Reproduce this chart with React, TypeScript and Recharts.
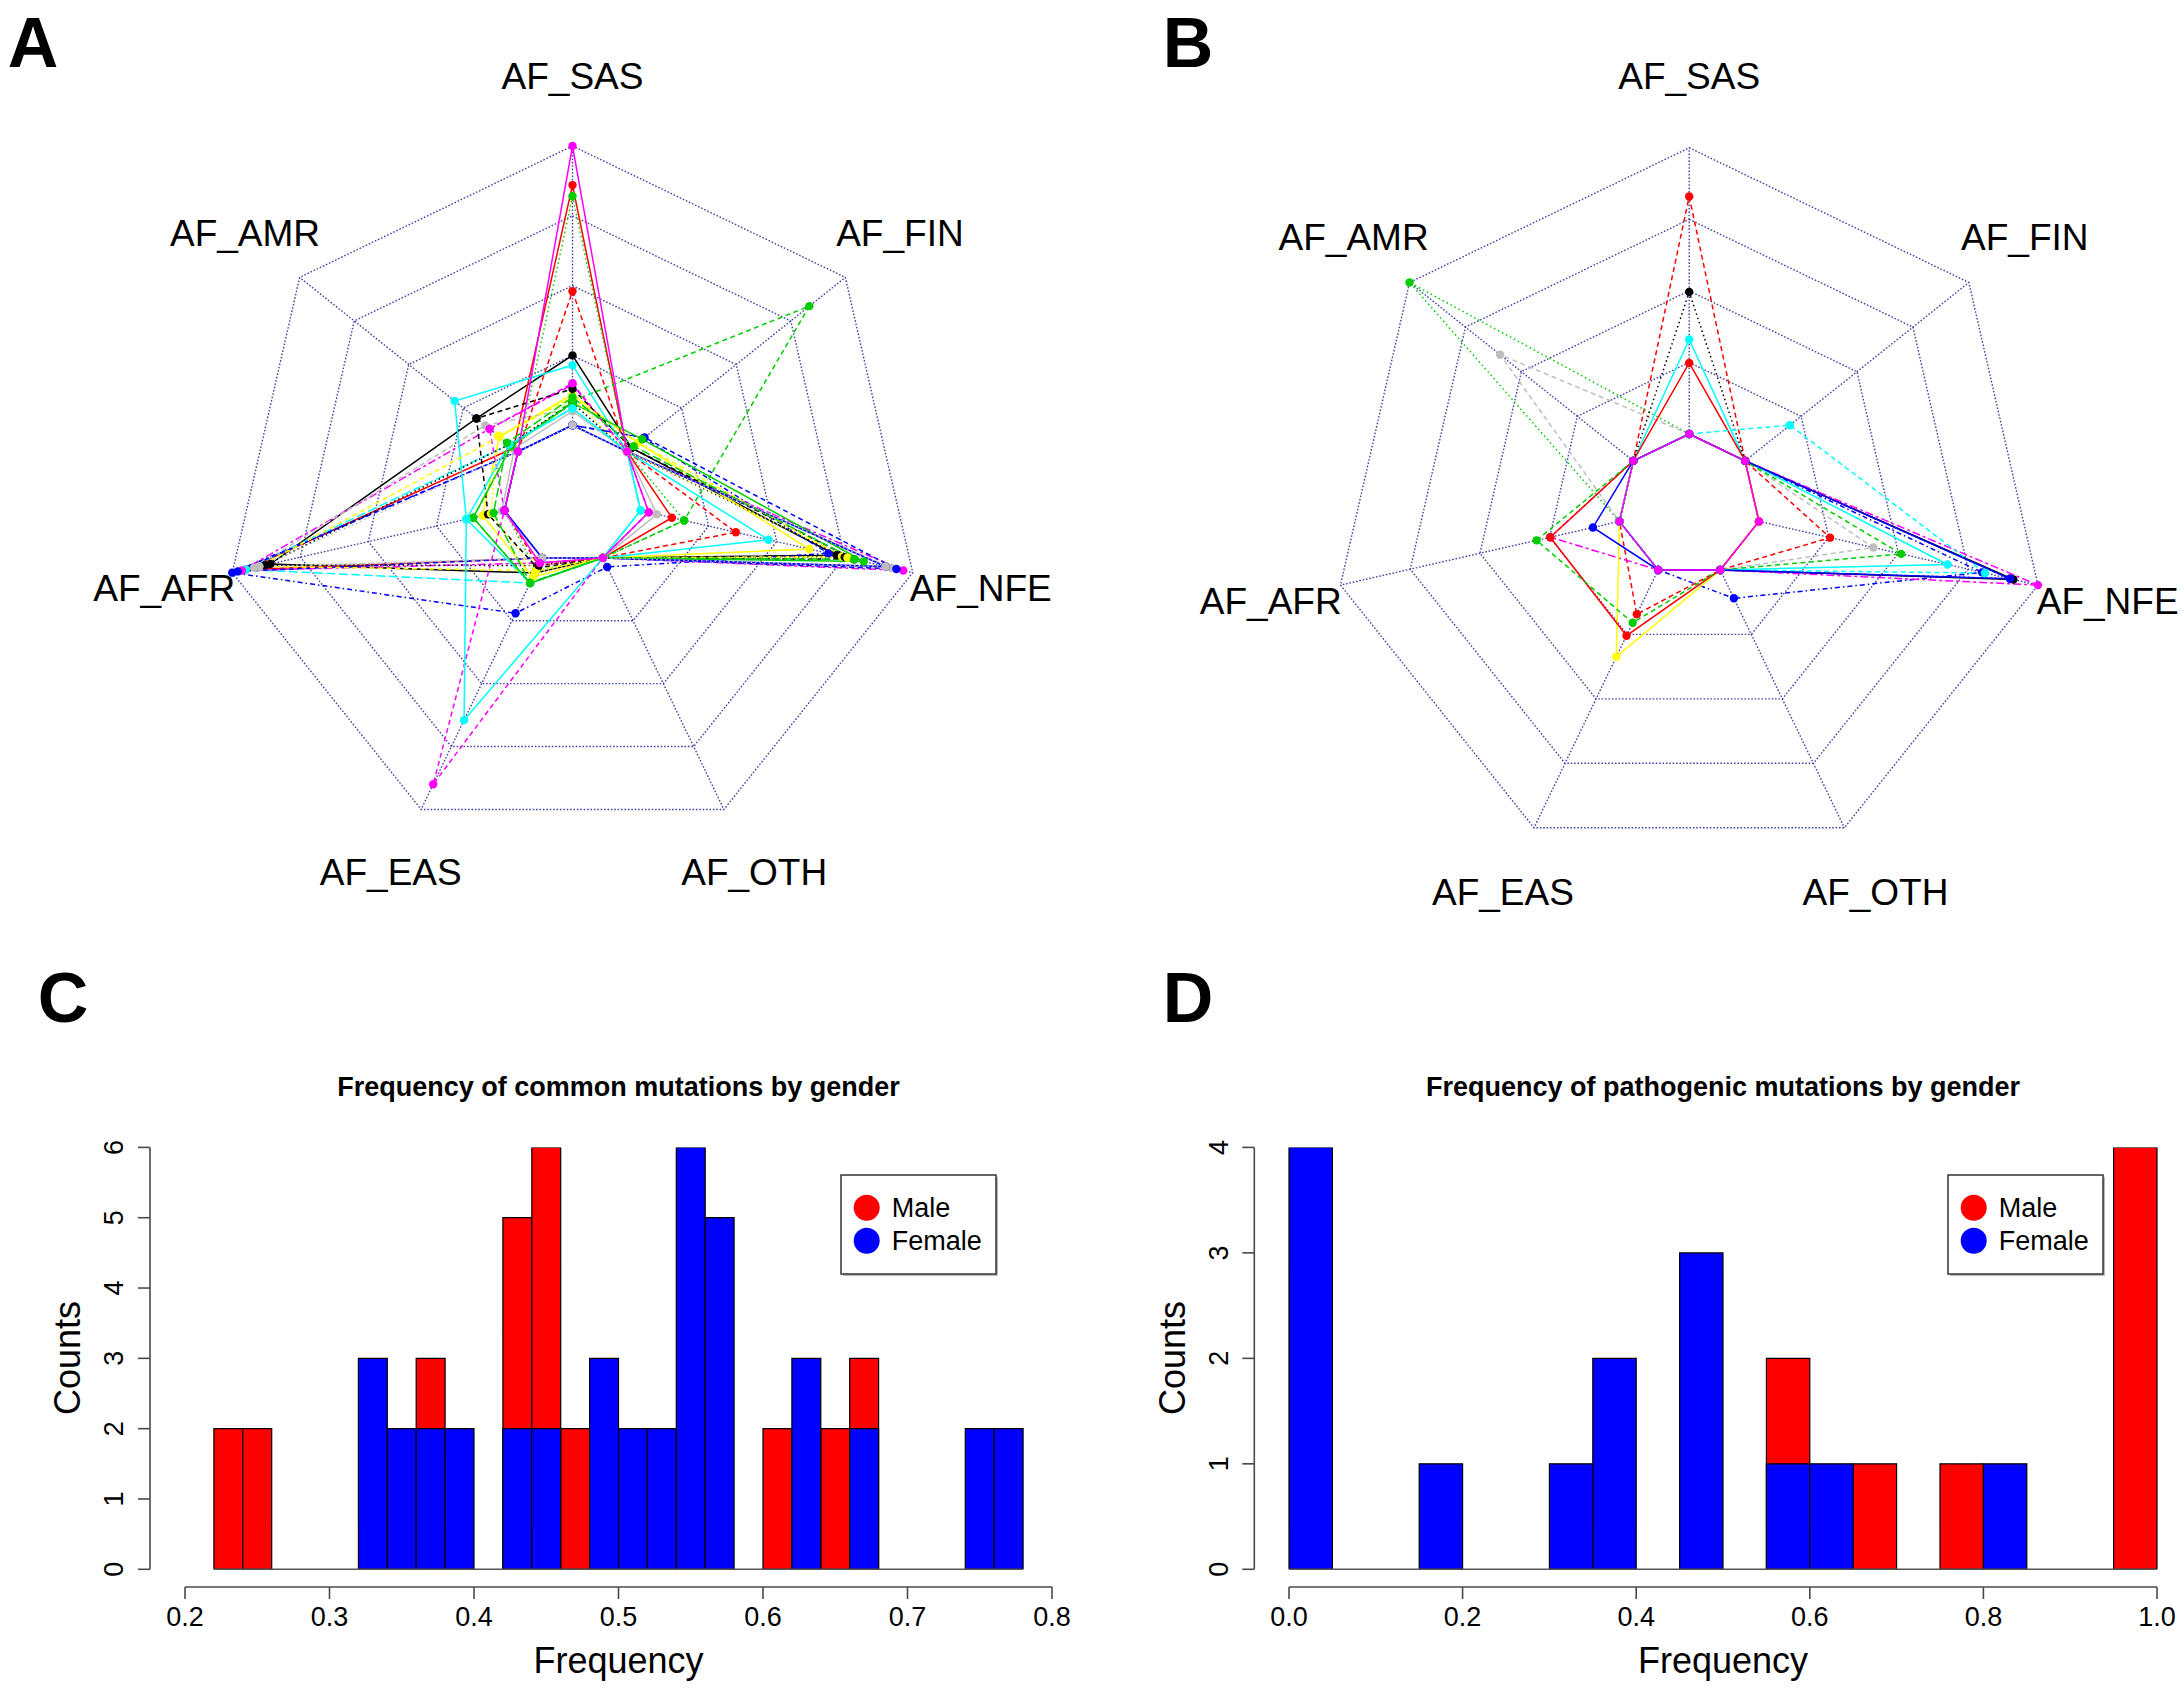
import React from 'react';
import {
  RadarChart, Radar, PolarGrid, PolarAngleAxis, PolarRadiusAxis,
  ComposedChart, Bar, XAxis, YAxis, ReferenceLine,
} from 'recharts';

const FONT = '"Liberation Sans", Arial, Helvetica, sans-serif';

// ---------------- Radar data ----------------
const radarAxes = ['AF_SAS', 'AF_FIN', 'AF_NFE', 'AF_OTH', 'AF_EAS', 'AF_AFR', 'AF_AMR'];

// Panel A series (order of radarAxes)
const a01 = [0.25, 0.02, 0.72, 0, 0.06, 0.86, 0.19];
const a02 = [0.86, 0, 0.115, 0, 0, 0.95, 0.02];
const a03 = [0.82, 0, 0.16, 0, 0.05, 0, 0];
const a04 = [0, 0.077, 0.69, 0.036, 0.22, 1.0, 0];
const a05 = [0.06, 0, 0, 0, 0.1, 0.95, 0.04];
const a06 = [0.145, 0, 0.965, 0, 0.02, 0.965, 0.13];
const a07 = [0.11, 0.05, 0.62, 0, 0.077, 0.08, 0.085];
const a08 = [0.06, 0, 0.92, 0, 0, 0.92, 0.15];
const a09 = [0.13, 0.02, 0.785, 0, 0.04, 0.06, 0.19];
const a10 = [0.48, 0, 0.35, 0, 0.03, 0, 0];
const a11 = [0.087, 0.835, 0.16, 0, 0.1, 0.115, 0.03];
const a12 = [0, 0.08, 0.94, 0, 0, 0.98, 0];
const a13 = [0.215, 0, 0.47, 0, 0.1, 0.14, 0.29];
const a14 = [0.15, 0, 0.03, 0, 0.9, 0, 0.13];
const a15 = [0.1, 0.05, 0.74, 0, 0.05, 0.9, 0.085];
const a16 = [0.05, 0, 0.06, 0, 0, 0.01, 0.016];
const a17 = [0.08, 0, 0.75, 0, 0.03, 0.88, 0.04];
const a18 = [0.08, 0.07, 0.82, 0, 0.1, 0.115, 0.03];
const a19 = [0, 0, 0.9, 0, 0, 0, 0];
const a20 = [0.06, 0, 0, 0, 0.645, 0.14, 0.04];
const a21 = [0.1, 0, 0.76, 0, 0.06, 0.05, 0.09];
const a22 = [0.1, 0.03, 0.785, 0, 0.1, 0.04, 0.05];
const a23 = [0, 0, 0.9, 0, 0, 0.9, 0];
const a24 = [1.0, 0, 0.03, 0, 0.02, 0, 0];
const radarASeries = [a01, a02, a03, a04, a05, a06, a07, a08, a09, a10, a11, a12, a13, a14, a15, a16, a17, a18, a19, a20, a21, a22, a23, a24];
const radarAColors = ['#000000', '#FF0000', '#00CD00', '#0000FF', '#00FFFF', '#FF00FF', '#FFFF00', '#BEBEBE',
  '#000000', '#FF0000', '#00CD00', '#0000FF', '#00FFFF', '#FF00FF', '#FFFF00', '#BEBEBE',
  '#000000', '#00CD00', '#0000FF', '#00FFFF', '#FFFF00', '#00CD00', '#BEBEBE', '#FF00FF'];
const radarALty = ['solid', 'solid', 'dotted', 'dotdash', 'longdash', 'twodash', 'solid', 'dashed',
  'dashed', 'dashed', 'dashed', 'dashed', 'solid', 'dashed', 'dashed', 'solid',
  'dotted', 'solid', 'solid', 'solid', 'dotted', 'longdash', 'dotted', 'solid'];

// Panel B series
const b01 = [0, 0, 0.912, 0, 0, 0, 0];
const b02 = [0.83, 0, 0.255, 0, 0.172, 0, 0];
const b03 = [0, 0, 0, 0, 0, 0, 1.0];
const b04 = [0, 0, 0.8, 0.11, 0, 0, 0];
const b05 = [0.33, 0, 0.676, 0, 0, 0, 0];
const b06 = [0, 0, 1.0, 0, 0, 0.248, 0];
const b07 = [0, 0, 0, 0, 0.337, 0, 0];
const b08 = [0, 0, 0.41, 0, 0, 0, 0.595];
const b09 = [0.496, 0, 0.9, 0, 0, 0, 0];
const b10 = [0.248, 0, 0, 0, 0.255, 0.248, 0];
const b11 = [0, 0, 0.51, 0, 0.205, 0.297, 0];
const b12 = [0, 0.2, 0.81, 0, 0, 0, 0];
const b13 = [0, 0, 0.9, 0, 0, 0.095, 0];
const b14 = [0, 0, 0, 0, 0, 0, 0];
const radarBSeries = [b01, b02, b03, b04, b05, b06, b07, b08, b09, b10, b11, b12, b13, b14];
const radarBColors = ['#000000', '#FF0000', '#00CD00', '#0000FF', '#00FFFF', '#FF00FF', '#FFFF00', '#BEBEBE',
  '#000000', '#FF0000', '#00CD00', '#00FFFF', '#0000FF', '#FF00FF'];
const radarBLty = ['solid', 'dashed', 'dotted', 'dotdash', 'solid', 'twodash', 'solid', 'dashed',
  'dotted', 'solid', 'dashed', 'dashed', 'solid', 'solid'];

// ---------------- Histogram data ----------------
const cBins = ['0.20', '0.22', '0.24', '0.26', '0.28', '0.30', '0.32', '0.34', '0.36', '0.38',
  '0.40', '0.42', '0.44', '0.46', '0.48', '0.50', '0.52', '0.54', '0.56', '0.58',
  '0.60', '0.62', '0.64', '0.66', '0.68', '0.70', '0.72', '0.74', '0.76', '0.78'];
const cMale = [0, 2, 2, 0, 0, 0, 0, 0, 3, 0, 0, 5, 6, 2, 0, 0, 0, 0, 0, 0, 2, 0, 2, 3, 0, 0, 0, 0, 0, 0];
const cFemale = [0, 0, 0, 0, 0, 0, 3, 2, 2, 2, 0, 2, 2, 0, 3, 2, 2, 6, 5, 0, 0, 3, 0, 2, 0, 0, 0, 2, 2, 0];
const cXTicks = [0.2, 0.3, 0.4, 0.5, 0.6, 0.7, 0.8];
const cYTicks = [0, 1, 2, 3, 4, 5, 6];
const cRange = [0.22, 0.78];

const dBins = ['0.00', '0.05', '0.10', '0.15', '0.20', '0.25', '0.30', '0.35', '0.40', '0.45',
  '0.50', '0.55', '0.60', '0.65', '0.70', '0.75', '0.80', '0.85', '0.90', '0.95'];
const dMale = [0, 0, 0, 0, 0, 0, 0, 0, 0, 0, 0, 2, 0, 1, 0, 1, 0, 0, 0, 4];
const dFemale = [4, 0, 0, 1, 0, 0, 1, 2, 0, 3, 0, 1, 1, 0, 0, 0, 1, 0, 0, 0];
const dXTicks = [0.0, 0.2, 0.4, 0.6, 0.8, 1.0];
const dYTicks = [0, 1, 2, 3, 4];
const dRange = [0.0, 1.0];

const DASH: Record<string, string | undefined> = {
  solid: undefined,
  dashed: '5 3.5',
  dotted: '1.5 3',
  dotdash: '1.5 3 5 3',
  longdash: '9 3.5',
  twodash: '3 3 8 3',
};

// ---------------- Radar panel ----------------
function RadarPanel(props: any) {
  const { left, top, width, height, cx, cy, R, series, colors, lty } = props;
  const rows = radarAxes.map((axis, i) => {
    const row: any = { axis };
    series.forEach((s: number[], k: number) => { row['s' + k] = s[i]; });
    return row;
  });
  const rings = [1, 2, 3, 4, 5].map((k) => (k * R) / 5);
  const tick = (p: any) => {
    const dx = p.x - cx;
    const dy = p.y - cy;
    const L = Math.hypot(dx, dy) || 1;
    const x = cx + (dx / L) * 1.2 * R;
    const y = cy + (dy / L) * 1.2 * R;
    return (
      <text x={x} y={y} textAnchor="middle" dominantBaseline="central"
        fontSize={37} fontFamily={FONT} fill="#000">{p.payload.value}</text>
    );
  };
  return (
    <div style={{ position: 'absolute', left, top, width, height }}>
      <RadarChart width={width} height={height} data={rows} cx={cx} cy={cy}
        innerRadius={R / 5} outerRadius={R} startAngle={90} endAngle={-270}
        margin={{ top: 0, right: 0, bottom: 0, left: 0 }}>
        <PolarGrid gridType="polygon" polarRadius={rings} stroke="#30309c"
          strokeOpacity={0.9} strokeDasharray="1.6 1.8" strokeWidth={1.4} />
        <PolarAngleAxis dataKey="axis" tick={tick} tickLine={false} axisLine={false} />
        <PolarRadiusAxis domain={[0, 1]} tick={false} axisLine={false} tickCount={5} />
        {series.map((_s: number[], k: number) => (
          <Radar key={k} dataKey={'s' + k} stroke={colors[k]} strokeWidth={1.5}
            strokeDasharray={DASH[lty[k]]} fill="none" fillOpacity={0}
            isAnimationActive={false} activeDot={false}
            dot={(p: any) => (
              <circle key={`d${k}-${p.index}`} cx={p.cx} cy={p.cy} r={4.2} fill={colors[k]} stroke="none" />
            )} />
        ))}
      </RadarChart>
    </div>
  );
}

// ---------------- Histogram panel ----------------
function HistPanel(props: any) {
  const { left, top, width, height, bins, male, female, xTicks, yTicks, range,
    axisX, x0, x1, yTop, yBottom, xAxisY, digits } = props;
  const rows = bins.map((b: string, i: number) => ({ bin: b, start: Number(b), male: male[i], female: female[i] }));
  const band = (x1 - x0) / bins.length;
  const barSize = band - 0.01;
  const padLeft = x0 - axisX;
  const axisStroke = '#4a4a4a';
  const yTick = (p: any) => (
    <text transform={`translate(${p.x - 22},${p.y}) rotate(-90)`} textAnchor="middle"
      dy="0.35em" fontSize={27} fontFamily={FONT} fill="#000">{p.payload.value}</text>
  );
  const xTick = (p: any) => (
    <text x={p.x} y={p.y + 15.7} textAnchor="middle" dominantBaseline="central"
      fontSize={27} fontFamily={FONT} fill="#000">{Number(p.payload.value).toFixed(digits)}</text>
  );
  const tickRows = xTicks.map((v: number) => ({ v }));
  return (
    <>
      <div style={{ position: 'absolute', left, top, width, height }}>
        <ComposedChart width={width} height={height} data={rows}
          margin={{ top: yTop, bottom: height - yBottom, left: axisX - 100, right: width - x1 }}>
          <XAxis xAxisId="m" dataKey="bin" type="category" hide height={0} padding={{ left: padLeft, right: 0 }} />
          <XAxis xAxisId="f" dataKey="bin" type="category" hide height={0} padding={{ left: padLeft, right: 0 }} />
          <XAxis xAxisId="n" dataKey="start" type="number" hide height={0}
            domain={[xTicks[0], xTicks[xTicks.length - 1]]}
            allowDataOverflow padding={{ left: padLeft, right: 0 }} />
          <YAxis width={100} type="number" domain={[0, yTicks[yTicks.length - 1]]} ticks={yTicks}
            interval={0} allowDataOverflow tickSize={12} tick={yTick}
            axisLine={{ stroke: axisStroke, strokeWidth: 1.6 }} tickLine={{ stroke: axisStroke, strokeWidth: 1.6 }} />
          <ReferenceLine xAxisId="n" segment={[{ x: range[0], y: 0 }, { x: range[1], y: 0 }]}
            stroke="#555" strokeWidth={1.6} ifOverflow="visible" />
          <Bar xAxisId="m" dataKey="male" fill="#FF0000" stroke="#000" strokeWidth={1.2}
            barSize={barSize} isAnimationActive={false} />
          <Bar xAxisId="f" dataKey="female" fill="#0000FF" stroke="#000" strokeWidth={1.2}
            barSize={barSize} isAnimationActive={false} />
        </ComposedChart>
      </div>
      <div style={{ position: 'absolute', left, top, width, height, pointerEvents: 'none' }}>
        <ComposedChart width={width} height={height} data={tickRows}
          margin={{ top: 10, bottom: height - xAxisY - 60, left: x0, right: width - x1 }}>
          <XAxis dataKey="v" type="number" domain={[xTicks[0], xTicks[xTicks.length - 1]]}
            ticks={xTicks} interval={0} allowDataOverflow height={60} tickSize={12} tick={xTick}
            axisLine={{ stroke: axisStroke, strokeWidth: 1.6 }} tickLine={{ stroke: axisStroke, strokeWidth: 1.6 }} />
          <YAxis hide width={0} domain={[0, 1]} />
        </ComposedChart>
      </div>
    </>
  );
}

function LegendBox({ x, y }: { x: number; y: number }) {
  return (
    <g>
      <rect x={x + 2} y={y + 2} width={155} height={99} fill="#bbb" />
      <rect x={x} y={y} width={155} height={99} fill="#fff" stroke="#333" strokeWidth={1.5} />
      <circle cx={x + 25.7} cy={y + 32.7} r={13} fill="#FF0000" />
      <circle cx={x + 25.7} cy={y + 65.7} r={13} fill="#0000FF" />
      <text x={x + 50.7} y={y + 32.7} dominantBaseline="central" fontSize={27} fontFamily={FONT} fill="#000">Male</text>
      <text x={x + 50.7} y={y + 65.7} dominantBaseline="central" fontSize={27} fontFamily={FONT} fill="#000">Female</text>
    </g>
  );
}

export default function App() {
  return (
    <div style={{ position: 'absolute', left: 0, top: 0, width: 2181, height: 1691, background: '#fff', fontFamily: FONT, overflow: 'hidden' }}>
      <RadarPanel left={0} top={0} width={1090} height={940} cx={572.5} cy={495} R={349}
        series={radarASeries} colors={radarAColors} lty={radarALty} />
      <RadarPanel left={1090} top={0} width={1091} height={940} cx={599.2} cy={505.5} R={357.7}
        series={radarBSeries} colors={radarBColors} lty={radarBLty} />
      <HistPanel left={0} top={940} width={1090} height={751} bins={cBins} male={cMale} female={cFemale}
        xTicks={cXTicks} yTicks={cYTicks} range={cRange} digits={1}
        axisX={150} x0={185} x1={1052} yTop={207.4} yBottom={629.3} xAxisY={647} />
      <HistPanel left={1090} top={940} width={1091} height={751} bins={dBins} male={dMale} female={dFemale}
        xTicks={dXTicks} yTicks={dYTicks} range={dRange} digits={1}
        axisX={164.3} x0={199} x1={1067} yTop={207.4} yBottom={629.3} xAxisY={647} />
      <svg width={2181} height={1691} style={{ position: 'absolute', left: 0, top: 0, pointerEvents: 'none' }}>
        <g fontFamily={FONT} fill="#000">
          <text x={33} y={43} textAnchor="middle" dominantBaseline="central" fontSize={70} fontWeight="bold">A</text>
          <text x={1188} y={43} textAnchor="middle" dominantBaseline="central" fontSize={70} fontWeight="bold">B</text>
          <text x={63} y={998} textAnchor="middle" dominantBaseline="central" fontSize={70} fontWeight="bold">C</text>
          <text x={1188} y={998} textAnchor="middle" dominantBaseline="central" fontSize={70} fontWeight="bold">D</text>
          <text x={618.5} y={1087} textAnchor="middle" dominantBaseline="central" fontSize={27} fontWeight="bold">Frequency of common mutations by gender</text>
          <text x={1723} y={1087} textAnchor="middle" dominantBaseline="central" fontSize={27} fontWeight="bold">Frequency of pathogenic mutations by gender</text>
          <text x={618.5} y={1660} textAnchor="middle" dominantBaseline="central" fontSize={36}>Frequency</text>
          <text x={1723} y={1660} textAnchor="middle" dominantBaseline="central" fontSize={36}>Frequency</text>
          <text transform="translate(67,1358) rotate(-90)" textAnchor="middle" dominantBaseline="central" fontSize={36}>Counts</text>
          <text transform="translate(1172,1358) rotate(-90)" textAnchor="middle" dominantBaseline="central" fontSize={36}>Counts</text>
        </g>
        <LegendBox x={841} y={1175} />
        <LegendBox x={1948} y={1175} />
      </svg>
    </div>
  );
}
